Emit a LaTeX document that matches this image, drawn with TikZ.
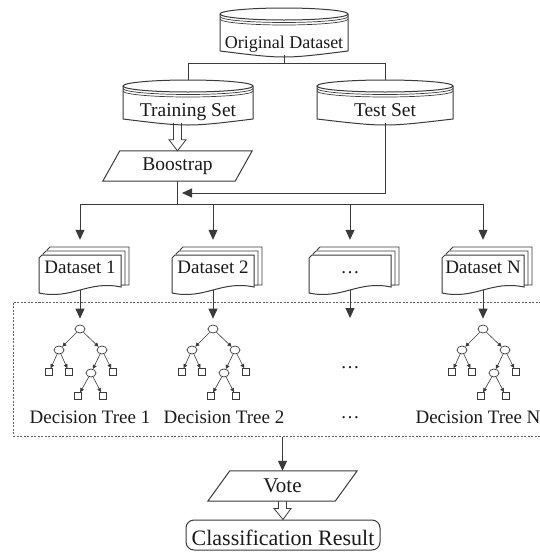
\documentclass[tikz,border=0pt]{standalone}
\usepackage{fontspec}
\setmainfont{Liberation Serif}
\usetikzlibrary{arrows.meta,calc,shapes.geometric}
\definecolor{ln}{HTML}{3A3A3A}
\definecolor{tx}{HTML}{1A1A1A}
\newcommand\fs[1]{\fontsize{#1}{#1}\selectfont}
% disk (stored data) shape: name, cx, top, W, bottom, text height, font size, text
\newcommand\disk[8]{%
  \pgfmathsetmacro\dkl{#2-#4/2}%
  \pgfmathsetmacro\dkr{#2+#4/2}%
  \pgfmathsetmacro\dkrx{#4/2}%
  \draw[line] (\dkl,#3+6) -- (\dkl,#5-4) .. controls (#2,#5+4) .. (\dkr,#5-4) -- (\dkr,#3+6);
  \draw[line] (#2,#3+6) ellipse [x radius=\dkrx pt, y radius=6pt];
  \draw[line,line width=0.7pt] (\dkl,#3+8.5) arc [start angle=180,end angle=360,x radius=\dkrx pt,y radius=6pt];
  \draw[line,line width=0.7pt] (\dkl,#3+11) arc [start angle=180,end angle=360,x radius=\dkrx pt,y radius=6pt];
  \node[lbl,font=\fs{#7},minimum width=#4,minimum height={#5-#3},text height=#6,text depth=3pt] (#1) at (#2,{(#3+#5)/2}) {#8};
}
% stacked documents: name, cx, top, text
\newcommand\docnode[4]{%
  \pgfmathsetmacro\dcl{#2-41}%
  \pgfmathsetmacro\dcr{#2+41}%
  \foreach \k in {8,4}{%
    \draw[line,line width=0.8pt,fill=white] (\dcl+\k,#3-\k+3) -- (\dcl+\k+3,#3-\k) -- (\dcr+\k,#3-\k) -- (\dcr+\k,#3+30) -- (\dcl+\k,#3+30) -- cycle;}
  \draw[line,fill=white] (\dcl,#3+3) -- (\dcl+3,#3) -- (\dcr,#3) -- (\dcr,#3+32) .. controls (\dcl+49,#3+25) and (\dcl+33,#3+45) .. (\dcl,#3+38) -- cycle;
  \node[lbl,font=\fs{19pt},minimum width=82,minimum height=38,text height=12pt,text depth=14pt] (#1) at (#2,#3+19) {#4};
}
% decision tree: prefix, root x, root y
\newcommand\dtree[3]{%
  \node[tc] (#1r) at (#2,#3) {};
  \node[tc] (#1a) at (#2-21,#3+21) {};
  \node[tc] (#1b) at (#2+22,#3+21) {};
  \node[tsq] (#1aa) at (#2-31,#3+43) {};
  \node[tsq] (#1ab) at (#2-11,#3+43) {};
  \node[tc] (#1ba) at (#2+11,#3+44) {};
  \node[tsq] (#1bb) at (#2+33,#3+43) {};
  \node[tsq] (#1baa) at (#2-2,#3+67) {};
  \node[tsq] (#1bab) at (#2+23,#3+67) {};
  \draw[tedge] (#1r) -- (#1a);
  \draw[tedge] (#1r) -- (#1b);
  \draw[tedge] (#1a) -- (#1aa);
  \draw[tedge] (#1a) -- (#1ab);
  \draw[tedge] (#1b) -- (#1ba);
  \draw[tedge] (#1b) -- (#1bb);
  \draw[tedge] (#1ba) -- (#1baa);
  \draw[tedge] (#1ba) -- (#1bab);
}
\newcommand\hollow[2]{%
  \draw[line,line width=0.8pt] let \p1=(#1), \p2=(#2) in
    (\x1-4pt,\y1) -- (\x1-4pt,\y2+11pt) -- (\x1-8.5pt,\y2+11pt) -- (\x2,\y2)
    -- (\x1+8.5pt,\y2+11pt) -- (\x1+4pt,\y2+11pt) -- (\x1+4pt,\y1);
}
\begin{document}
\begin{tikzpicture}[x=1pt,y=-1pt,
  line/.style={draw=ln,line width=1pt},
  arr/.style={line,-{Triangle[width=9pt,length=10pt]}},
  lbl/.style={text=tx,inner sep=0pt,font=\fs{19pt}},
  tc/.style={ellipse,draw=ln,line width=0.7pt,minimum width=10pt,minimum height=8pt,inner sep=0pt},
  tsq/.style={rectangle,draw=ln,line width=0.7pt,minimum size=7pt,inner sep=0pt},
  tedge/.style={draw=ln,line width=0.6pt,-{Triangle[width=4pt,length=4pt]}},
  dbox/.style={draw=ln!80,line width=1pt,dash pattern=on 2pt off 1.5pt}
]
\useasboundingbox (0,0) rectangle (539,552);

% stores
\disk{orig}{284}{8}{128}{55}{36pt}{18pt}{Original Dataset}
\disk{trn}{188}{80}{130}{123}{32pt}{19.5pt}{Training Set}
\disk{tst}{385}{80}{136}{123}{32pt}{19.5pt}{Test Set}

% Boostrap
\node[lbl,font=\fs{19.5pt},minimum width=132,minimum height=30] (bs) at (177.5,166) {Boostrap};
\draw[line] ([xshift=-8.5pt]bs.south west) -- ([xshift=-8.5pt]bs.south east)
  -- ([xshift=8.5pt]bs.north east) -- ([xshift=8.5pt]bs.north west) -- cycle;

% documents
\docnode{d1}{80}{255}{Dataset 1}
\docnode{d2}{213}{255}{Dataset 2}
\docnode{d3}{350}{255}{\dots}
\docnode{dN}{483}{255}{Dataset N}

% dashed frame
\node[dbox,minimum width=547,minimum height=134] (fbox) at (286.5,369) {};

% trees
\dtree{t1}{80}{329}
\dtree{t2}{213}{329}
\dtree{tN}{483}{329}
\coordinate (e3) at (350,318);
\node[lbl] (m3) at (350,368) {\dots};

\node[lbl] (l1) at (90,417) {Decision Tree 1};
\node[lbl] (l2) at (224,417) {Decision Tree 2};
\node[lbl] (l3) at (350,418) {\dots};
\node[lbl] (lN) at (478,417) {Decision Tree N};

% Vote
\node[lbl,font=\fs{21pt},minimum width=127,minimum height=30] (vote) at (282.5,486) {Vote};
\draw[line] ([xshift=-11pt]vote.south west) -- ([xshift=-11pt]vote.south east)
  -- ([xshift=11pt]vote.north east) -- ([xshift=11pt]vote.north west) -- cycle;

% Classification Result
\node[lbl,font=\fs{22pt},draw=ln,line width=1pt,rounded corners=8pt,minimum width=194,minimum height=30,text height=22pt,text depth=2pt] (cls) at (283,535) {Classification Result};

% connectors
\coordinate (o1) at (284,63);
\draw[line] (orig.south) -- (o1);
\draw[line] (o1) -| (trn.north);
\draw[line] (o1) -| (tst.north);

\hollow{bs.north |- trn.south}{bs.north}

\coordinate (join) at (182,193);
\coordinate (split) at (177.5,204);
\draw[arr] (tst.south) |- (join);
\draw[line] (bs.south) -- (split);
\draw[line] (split -| d1.north) -- (split -| dN.north);
\foreach \d in {d1,d2,d3,dN}{
  \draw[arr,shorten >=15pt] (split -| \d.north) -- (\d.north);
}

\draw[arr,shorten >=6pt] ([yshift=3pt]d1.south) -- (t1r.north);
\draw[arr,shorten >=6pt] ([yshift=3pt]d2.south) -- (t2r.north);
\draw[arr] ([yshift=3pt]d3.south) -- (e3);
\draw[arr,shorten >=6pt] ([yshift=3pt]dN.south) -- (tNr.north);

\draw[arr] (vote.north |- fbox.south) -- (vote.north);
\hollow{vote.south}{cls.north}
\end{tikzpicture}
\end{document}
